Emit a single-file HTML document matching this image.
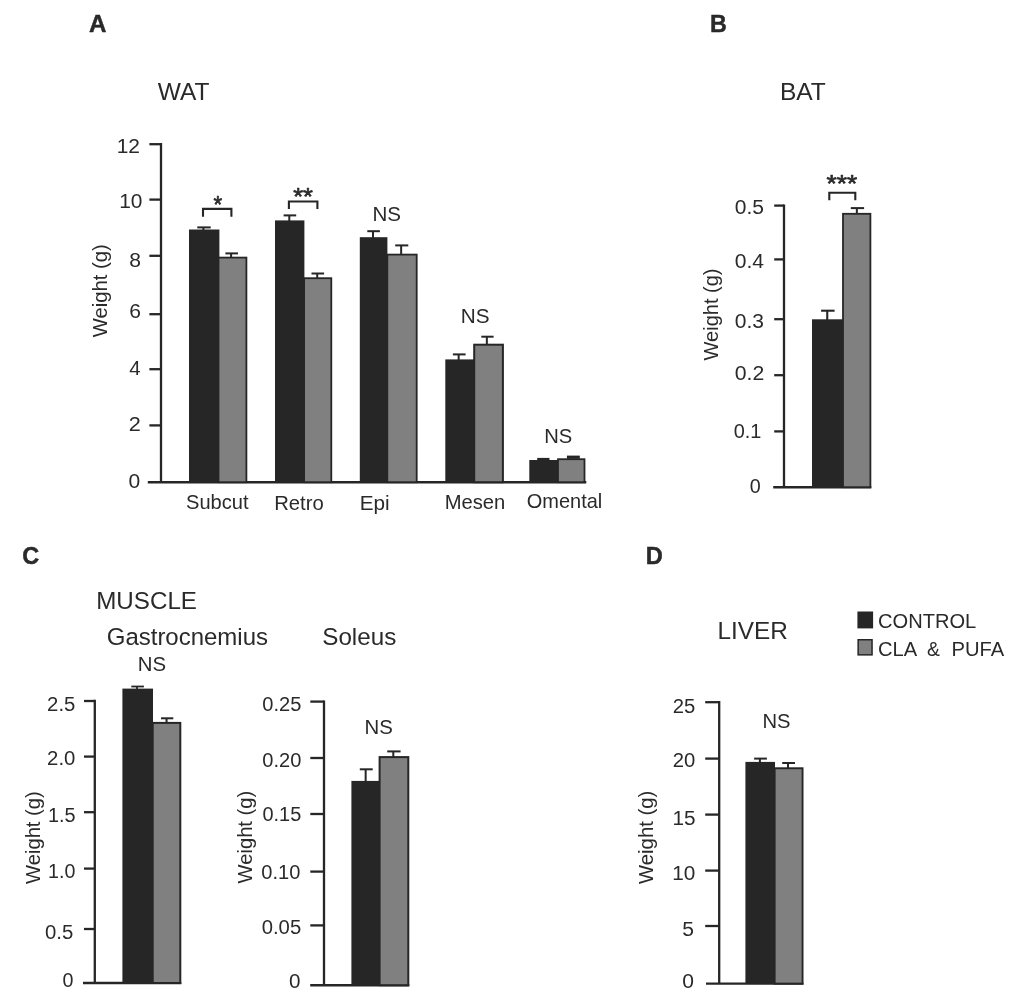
<!DOCTYPE html>
<html><head><meta charset="utf-8"><title>Figure</title>
<style>
html,body{margin:0;padding:0;background:#fff;}
svg{display:block;font-family:"Liberation Sans",sans-serif;filter:grayscale(1);}
</style></head>
<body>
<svg width="1016" height="1000" viewBox="0 0 1016 1000">
<rect x="0" y="0" width="1016" height="1000" fill="#ffffff"/>
<line x1="161.0" y1="143.04999999999998" x2="161.0" y2="482.2" stroke="#262626" stroke-width="2.3"/>
<line x1="147.8" y1="482.2" x2="586.3" y2="482.2" stroke="#262626" stroke-width="2.4"/>
<line x1="149.4" y1="144.2" x2="161.0" y2="144.2" stroke="#262626" stroke-width="2.3"/>
<line x1="149.4" y1="199.6" x2="161.0" y2="199.6" stroke="#262626" stroke-width="2.3"/>
<line x1="149.4" y1="255.8" x2="161.0" y2="255.8" stroke="#262626" stroke-width="2.3"/>
<line x1="149.4" y1="314.2" x2="161.0" y2="314.2" stroke="#262626" stroke-width="2.3"/>
<line x1="149.4" y1="369.2" x2="161.0" y2="369.2" stroke="#262626" stroke-width="2.3"/>
<line x1="149.4" y1="425.4" x2="161.0" y2="425.4" stroke="#262626" stroke-width="2.3"/>
<rect x="189.00" y="229.50" width="30.40" height="252.70" fill="#262626"/>
<line x1="197.3" y1="227.4" x2="210.7" y2="227.4" stroke="#262626" stroke-width="2.0"/>
<line x1="203.4" y1="227.4" x2="203.4" y2="230.5" stroke="#262626" stroke-width="2.0"/>
<rect x="218.50" y="257.60" width="27.90" height="224.60" fill="#808080" stroke="#262626" stroke-width="1.8"/>
<line x1="225.4" y1="253.4" x2="238.0" y2="253.4" stroke="#262626" stroke-width="2.0"/>
<line x1="231.1" y1="253.4" x2="231.1" y2="257.9" stroke="#262626" stroke-width="2.0"/>
<polyline points="203.0,216.8 203.0,208.9 231.4,208.9 231.4,216.8" fill="none" stroke="#262626" stroke-width="2.1" stroke-linejoin="miter"/>
<rect x="275.00" y="220.40" width="29.40" height="261.80" fill="#262626"/>
<line x1="283.6" y1="215.4" x2="296.2" y2="215.4" stroke="#262626" stroke-width="2.0"/>
<line x1="289.29999999999995" y1="215.4" x2="289.29999999999995" y2="221.4" stroke="#262626" stroke-width="2.0"/>
<rect x="304.10" y="278.20" width="27.20" height="204.00" fill="#808080" stroke="#262626" stroke-width="1.8"/>
<line x1="311.5" y1="273.5" x2="324.1" y2="273.5" stroke="#262626" stroke-width="2.0"/>
<line x1="317.2" y1="273.5" x2="317.2" y2="278.5" stroke="#262626" stroke-width="2.0"/>
<polyline points="288.9,208.9 288.9,201.5 317.4,201.5 317.4,208.9" fill="none" stroke="#262626" stroke-width="2.1" stroke-linejoin="miter"/>
<rect x="359.80" y="237.20" width="27.60" height="245.00" fill="#262626"/>
<line x1="367.3" y1="231.2" x2="379.9" y2="231.2" stroke="#262626" stroke-width="2.0"/>
<line x1="373.0" y1="231.2" x2="373.0" y2="238.2" stroke="#262626" stroke-width="2.0"/>
<rect x="387.30" y="254.60" width="29.40" height="227.60" fill="#808080" stroke="#262626" stroke-width="1.8"/>
<line x1="395.2" y1="245.4" x2="408.3" y2="245.4" stroke="#262626" stroke-width="2.0"/>
<line x1="401.15" y1="245.4" x2="401.15" y2="255.0" stroke="#262626" stroke-width="2.0"/>
<rect x="445.30" y="359.40" width="28.80" height="122.80" fill="#262626"/>
<line x1="452.9" y1="354.4" x2="465.6" y2="354.4" stroke="#262626" stroke-width="2.0"/>
<line x1="458.65" y1="354.4" x2="458.65" y2="360.4" stroke="#262626" stroke-width="2.0"/>
<rect x="474.20" y="344.70" width="28.70" height="137.50" fill="#808080" stroke="#262626" stroke-width="2.0"/>
<line x1="481.3" y1="336.7" x2="493.6" y2="336.7" stroke="#262626" stroke-width="2.0"/>
<line x1="486.85" y1="336.7" x2="486.85" y2="345.0" stroke="#262626" stroke-width="2.0"/>
<rect x="529.30" y="460.00" width="28.70" height="22.20" fill="#262626"/>
<rect x="537.20" y="457.90" width="12.30" height="2.60" fill="#262626"/>
<rect x="558.00" y="459.20" width="26.50" height="23.00" fill="#808080" stroke="#262626" stroke-width="1.8"/>
<rect x="566.90" y="455.60" width="12.90" height="3.20" fill="#262626"/>
<line x1="784.0" y1="204.45" x2="784.0" y2="487.2" stroke="#262626" stroke-width="2.3"/>
<line x1="773.2" y1="487.2" x2="871.3" y2="487.2" stroke="#262626" stroke-width="2.4"/>
<line x1="774.2" y1="205.6" x2="784.0" y2="205.6" stroke="#262626" stroke-width="2.3"/>
<line x1="774.2" y1="259.4" x2="784.0" y2="259.4" stroke="#262626" stroke-width="2.3"/>
<line x1="774.2" y1="319.2" x2="784.0" y2="319.2" stroke="#262626" stroke-width="2.3"/>
<line x1="774.2" y1="375.2" x2="784.0" y2="375.2" stroke="#262626" stroke-width="2.3"/>
<line x1="774.2" y1="431.4" x2="784.0" y2="431.4" stroke="#262626" stroke-width="2.3"/>
<rect x="812.00" y="319.30" width="31.90" height="167.90" fill="#262626"/>
<line x1="821.1" y1="310.7" x2="834.6" y2="310.7" stroke="#262626" stroke-width="2.1"/>
<line x1="827.25" y1="310.7" x2="827.25" y2="320.3" stroke="#262626" stroke-width="2.1"/>
<rect x="843.00" y="213.80" width="27.40" height="273.40" fill="#808080" stroke="#262626" stroke-width="1.8"/>
<line x1="850.8" y1="208.1" x2="864.1" y2="208.1" stroke="#262626" stroke-width="2.0"/>
<line x1="856.85" y1="208.1" x2="856.85" y2="214.0" stroke="#262626" stroke-width="2.0"/>
<polyline points="829.3,200.2 829.3,192.8 855.3,192.8 855.3,200.2" fill="none" stroke="#262626" stroke-width="2.1" stroke-linejoin="miter"/>
<line x1="94.8" y1="699.85" x2="94.8" y2="983.0" stroke="#262626" stroke-width="2.3"/>
<line x1="83.0" y1="983.0" x2="181.3" y2="983.0" stroke="#262626" stroke-width="2.4"/>
<line x1="84.0" y1="701.0" x2="94.8" y2="701.0" stroke="#262626" stroke-width="2.3"/>
<line x1="84.0" y1="756.6" x2="94.8" y2="756.6" stroke="#262626" stroke-width="2.3"/>
<line x1="84.0" y1="812.2" x2="94.8" y2="812.2" stroke="#262626" stroke-width="2.3"/>
<line x1="84.0" y1="868.6" x2="94.8" y2="868.6" stroke="#262626" stroke-width="2.3"/>
<line x1="84.0" y1="929.0" x2="94.8" y2="929.0" stroke="#262626" stroke-width="2.3"/>
<rect x="122.40" y="688.60" width="30.60" height="294.40" fill="#262626"/>
<line x1="131.3" y1="686.5" x2="143.9" y2="686.5" stroke="#262626" stroke-width="1.8"/>
<line x1="137.00000000000003" y1="686.5" x2="137.00000000000003" y2="689.6" stroke="#262626" stroke-width="1.8"/>
<rect x="152.70" y="722.90" width="27.60" height="260.10" fill="#808080" stroke="#262626" stroke-width="2.0"/>
<line x1="161.0" y1="718.3" x2="173.3" y2="718.3" stroke="#262626" stroke-width="2.0"/>
<line x1="166.55" y1="718.3" x2="166.55" y2="723.0" stroke="#262626" stroke-width="2.0"/>
<line x1="324.0" y1="700.45" x2="324.0" y2="985.2" stroke="#262626" stroke-width="2.3"/>
<line x1="310.2" y1="985.2" x2="409.3" y2="985.2" stroke="#262626" stroke-width="2.4"/>
<line x1="310.3" y1="701.6" x2="324.0" y2="701.6" stroke="#262626" stroke-width="2.3"/>
<line x1="310.3" y1="758.0" x2="324.0" y2="758.0" stroke="#262626" stroke-width="2.3"/>
<line x1="310.3" y1="814.0" x2="324.0" y2="814.0" stroke="#262626" stroke-width="2.3"/>
<line x1="310.3" y1="871.6" x2="324.0" y2="871.6" stroke="#262626" stroke-width="2.3"/>
<line x1="310.3" y1="925.4" x2="324.0" y2="925.4" stroke="#262626" stroke-width="2.3"/>
<rect x="351.40" y="780.90" width="28.10" height="204.30" fill="#262626"/>
<line x1="359.8" y1="769.3" x2="372.7" y2="769.3" stroke="#262626" stroke-width="2.0"/>
<line x1="365.65" y1="769.3" x2="365.65" y2="781.9" stroke="#262626" stroke-width="2.0"/>
<rect x="379.60" y="757.10" width="28.70" height="228.10" fill="#808080" stroke="#262626" stroke-width="2.0"/>
<line x1="387.2" y1="751.4" x2="400.6" y2="751.4" stroke="#262626" stroke-width="2.0"/>
<line x1="393.29999999999995" y1="751.4" x2="393.29999999999995" y2="757.5" stroke="#262626" stroke-width="2.0"/>
<line x1="719.2" y1="701.0500000000001" x2="719.2" y2="983.6" stroke="#262626" stroke-width="2.3"/>
<line x1="706.0" y1="983.6" x2="803.5" y2="983.6" stroke="#262626" stroke-width="2.4"/>
<line x1="705.2" y1="702.2" x2="719.2" y2="702.2" stroke="#262626" stroke-width="2.3"/>
<line x1="705.2" y1="758.6" x2="719.2" y2="758.6" stroke="#262626" stroke-width="2.3"/>
<line x1="705.2" y1="814.6" x2="719.2" y2="814.6" stroke="#262626" stroke-width="2.3"/>
<line x1="705.2" y1="870.6" x2="719.2" y2="870.6" stroke="#262626" stroke-width="2.3"/>
<line x1="705.2" y1="926.0" x2="719.2" y2="926.0" stroke="#262626" stroke-width="2.3"/>
<rect x="745.40" y="761.90" width="29.60" height="221.70" fill="#262626"/>
<line x1="754.1" y1="758.6" x2="766.9" y2="758.6" stroke="#262626" stroke-width="2.0"/>
<line x1="759.9" y1="758.6" x2="759.9" y2="762.9" stroke="#262626" stroke-width="2.0"/>
<rect x="774.65" y="768.25" width="27.90" height="215.35" fill="#808080" stroke="#262626" stroke-width="1.9"/>
<line x1="782.2" y1="763.0" x2="795.0" y2="763.0" stroke="#262626" stroke-width="2.0"/>
<line x1="788.0" y1="763.0" x2="788.0" y2="768.3" stroke="#262626" stroke-width="2.0"/>
<rect x="857.40" y="611.50" width="15.70" height="16.90" fill="#262626"/>
<rect x="858.15" y="639.75" width="13.90" height="15.10" fill="#808080" stroke="#262626" stroke-width="1.5"/>
<text x="89.03" y="32.25" font-size="24.3" font-weight="bold" stroke="#222222" stroke-width="0.45" stroke-linejoin="round" fill="#2a2a2a" textLength="17.44" lengthAdjust="spacingAndGlyphs">A</text>
<text x="709.99" y="32.00" font-size="24.3" font-weight="bold" stroke="#222222" stroke-width="0.45" stroke-linejoin="round" fill="#2a2a2a" textLength="16.81" lengthAdjust="spacingAndGlyphs">B</text>
<text x="22.32" y="563.50" font-size="24.3" font-weight="bold" stroke="#222222" stroke-width="0.45" stroke-linejoin="round" fill="#2a2a2a" textLength="16.97" lengthAdjust="spacingAndGlyphs">C</text>
<text x="645.71" y="563.75" font-size="24.3" font-weight="bold" stroke="#222222" stroke-width="0.45" stroke-linejoin="round" fill="#2a2a2a" textLength="17.04" lengthAdjust="spacingAndGlyphs">D</text>
<text x="157.75" y="100.00" font-size="24.6" fill="#2a2a2a" textLength="51.73" lengthAdjust="spacingAndGlyphs">WAT</text>
<text x="779.90" y="100.00" font-size="24.6" fill="#2a2a2a" textLength="46.00" lengthAdjust="spacingAndGlyphs">BAT</text>
<text x="96.23" y="608.50" font-size="24.6" fill="#2a2a2a" textLength="100.74" lengthAdjust="spacingAndGlyphs">MUSCLE</text>
<text x="106.75" y="644.75" font-size="23.7" fill="#2a2a2a" textLength="161.25" lengthAdjust="spacingAndGlyphs">Gastrocnemius</text>
<text x="322.25" y="645.25" font-size="23.7" fill="#2a2a2a" textLength="74.00" lengthAdjust="spacingAndGlyphs">Soleus</text>
<text x="717.46" y="639.00" font-size="24.6" fill="#2a2a2a" textLength="70.31" lengthAdjust="spacingAndGlyphs">LIVER</text>
<text x="878.00" y="627.75" font-size="20.8" fill="#2a2a2a" textLength="98.24" lengthAdjust="spacingAndGlyphs">CONTROL</text>
<text x="878.02" y="655.50" font-size="20.8" fill="#2a2a2a" textLength="39.22" lengthAdjust="spacingAndGlyphs">CLA</text>
<text x="927.03" y="655.50" font-size="20.8" fill="#2a2a2a" textLength="12.91" lengthAdjust="spacingAndGlyphs">&amp;</text>
<text x="951.51" y="655.50" font-size="20.8" fill="#2a2a2a" textLength="52.74" lengthAdjust="spacingAndGlyphs">PUFA</text>
<text x="372.47" y="221.00" font-size="20.1" fill="#2a2a2a" textLength="28.55" lengthAdjust="spacingAndGlyphs">NS</text>
<text x="460.67" y="323.25" font-size="20.1" fill="#2a2a2a" textLength="28.82" lengthAdjust="spacingAndGlyphs">NS</text>
<text x="544.19" y="443.25" font-size="20.1" fill="#2a2a2a" textLength="28.06" lengthAdjust="spacingAndGlyphs">NS</text>
<text x="137.74" y="670.75" font-size="20.1" fill="#2a2a2a" textLength="28.30" lengthAdjust="spacingAndGlyphs">NS</text>
<text x="364.46" y="734.25" font-size="20.1" fill="#2a2a2a" textLength="28.30" lengthAdjust="spacingAndGlyphs">NS</text>
<text x="762.47" y="728.25" font-size="20.1" fill="#2a2a2a" textLength="28.05" lengthAdjust="spacingAndGlyphs">NS</text>
<text x="186.01" y="509.25" font-size="19.8" fill="#2a2a2a" textLength="62.48" lengthAdjust="spacingAndGlyphs">Subcut</text>
<text x="274.23" y="509.75" font-size="19.8" fill="#2a2a2a" textLength="49.53" lengthAdjust="spacingAndGlyphs">Retro</text>
<text x="359.72" y="510.25" font-size="19.8" fill="#2a2a2a" textLength="29.93" lengthAdjust="spacingAndGlyphs">Epi</text>
<text x="444.73" y="509.25" font-size="19.8" fill="#2a2a2a" textLength="60.58" lengthAdjust="spacingAndGlyphs">Mesen</text>
<text x="526.75" y="508.25" font-size="19.8" fill="#2a2a2a" textLength="75.52" lengthAdjust="spacingAndGlyphs">Omental</text>
<text x="213.53" y="213.00" font-size="24.5" stroke="#2a2a2a" stroke-width="0.7" stroke-linejoin="round" fill="#2a2a2a" textLength="8.67" lengthAdjust="spacingAndGlyphs">*</text>
<text x="293.27" y="204.75" font-size="24.5" stroke="#2a2a2a" stroke-width="0.7" stroke-linejoin="round" fill="#2a2a2a" textLength="19.71" lengthAdjust="spacingAndGlyphs">**</text>
<text x="826.51" y="192.25" font-size="24.5" stroke="#2a2a2a" stroke-width="0.7" stroke-linejoin="round" fill="#2a2a2a" textLength="30.73" lengthAdjust="spacingAndGlyphs">***</text>
<text transform="translate(107.35,337.25) rotate(-90)" font-size="20" fill="#2a2a2a" textLength="93.02" lengthAdjust="spacingAndGlyphs">Weight (g)</text>
<text transform="translate(718.23,360.50) rotate(-90)" font-size="20" fill="#2a2a2a" textLength="92.02" lengthAdjust="spacingAndGlyphs">Weight (g)</text>
<text transform="translate(39.76,884.00) rotate(-90)" font-size="20" fill="#2a2a2a" textLength="92.77" lengthAdjust="spacingAndGlyphs">Weight (g)</text>
<text transform="translate(251.77,883.50) rotate(-90)" font-size="20" fill="#2a2a2a" textLength="92.77" lengthAdjust="spacingAndGlyphs">Weight (g)</text>
<text transform="translate(652.86,884.00) rotate(-90)" font-size="20" fill="#2a2a2a" textLength="93.27" lengthAdjust="spacingAndGlyphs">Weight (g)</text>
<text x="116.66" y="153.00" font-size="19.5" fill="#2a2a2a" textLength="23.30" lengthAdjust="spacingAndGlyphs">12</text>
<text x="119.23" y="207.50" font-size="19.5" fill="#2a2a2a" textLength="23.28" lengthAdjust="spacingAndGlyphs">10</text>
<text x="129.31" y="266.75" font-size="19.5" fill="#2a2a2a" textLength="11.74" lengthAdjust="spacingAndGlyphs">8</text>
<text x="129.18" y="317.75" font-size="19.5" fill="#2a2a2a" textLength="11.74" lengthAdjust="spacingAndGlyphs">6</text>
<text x="129.24" y="374.50" font-size="19.5" fill="#2a2a2a" textLength="11.39" lengthAdjust="spacingAndGlyphs">4</text>
<text x="128.68" y="430.75" font-size="19.5" fill="#2a2a2a" textLength="12.08" lengthAdjust="spacingAndGlyphs">2</text>
<text x="128.52" y="487.50" font-size="19.5" fill="#2a2a2a" textLength="11.71" lengthAdjust="spacingAndGlyphs">0</text>
<text x="734.71" y="213.75" font-size="19.5" fill="#2a2a2a" textLength="29.20" lengthAdjust="spacingAndGlyphs">0.5</text>
<text x="734.80" y="267.50" font-size="19.5" fill="#2a2a2a" textLength="29.26" lengthAdjust="spacingAndGlyphs">0.4</text>
<text x="734.71" y="328.25" font-size="19.5" fill="#2a2a2a" textLength="29.20" lengthAdjust="spacingAndGlyphs">0.3</text>
<text x="734.72" y="379.50" font-size="19.5" fill="#2a2a2a" textLength="29.53" lengthAdjust="spacingAndGlyphs">0.2</text>
<text x="733.71" y="438.00" font-size="19.5" fill="#2a2a2a" textLength="27.63" lengthAdjust="spacingAndGlyphs">0.1</text>
<text x="749.76" y="492.75" font-size="19.5" fill="#2a2a2a" textLength="10.98" lengthAdjust="spacingAndGlyphs">0</text>
<text x="47.09" y="710.50" font-size="19.5" fill="#2a2a2a" textLength="28.26" lengthAdjust="spacingAndGlyphs">2.5</text>
<text x="47.09" y="764.50" font-size="19.5" fill="#2a2a2a" textLength="28.26" lengthAdjust="spacingAndGlyphs">2.0</text>
<text x="47.97" y="822.00" font-size="19.5" fill="#2a2a2a" textLength="27.58" lengthAdjust="spacingAndGlyphs">1.5</text>
<text x="48.02" y="878.00" font-size="19.5" fill="#2a2a2a" textLength="27.30" lengthAdjust="spacingAndGlyphs">1.0</text>
<text x="45.01" y="939.25" font-size="19.5" fill="#2a2a2a" textLength="28.27" lengthAdjust="spacingAndGlyphs">0.5</text>
<text x="62.51" y="987.25" font-size="19.5" fill="#2a2a2a" textLength="10.97" lengthAdjust="spacingAndGlyphs">0</text>
<text x="262.26" y="711.25" font-size="19.5" fill="#2a2a2a" textLength="39.05" lengthAdjust="spacingAndGlyphs">0.25</text>
<text x="262.26" y="767.25" font-size="19.5" fill="#2a2a2a" textLength="39.05" lengthAdjust="spacingAndGlyphs">0.20</text>
<text x="262.51" y="821.25" font-size="19.5" fill="#2a2a2a" textLength="38.77" lengthAdjust="spacingAndGlyphs">0.15</text>
<text x="261.26" y="878.75" font-size="19.5" fill="#2a2a2a" textLength="39.05" lengthAdjust="spacingAndGlyphs">0.10</text>
<text x="261.72" y="934.25" font-size="19.5" fill="#2a2a2a" textLength="39.45" lengthAdjust="spacingAndGlyphs">0.05</text>
<text x="289.05" y="987.75" font-size="19.5" fill="#2a2a2a" textLength="11.50" lengthAdjust="spacingAndGlyphs">0</text>
<text x="672.75" y="713.25" font-size="19.5" fill="#2a2a2a" textLength="22.53" lengthAdjust="spacingAndGlyphs">25</text>
<text x="672.75" y="767.25" font-size="19.5" fill="#2a2a2a" textLength="22.53" lengthAdjust="spacingAndGlyphs">20</text>
<text x="672.49" y="824.75" font-size="19.5" fill="#2a2a2a" textLength="23.11" lengthAdjust="spacingAndGlyphs">15</text>
<text x="672.27" y="879.50" font-size="19.5" fill="#2a2a2a" textLength="23.09" lengthAdjust="spacingAndGlyphs">10</text>
<text x="682.25" y="935.50" font-size="19.5" fill="#2a2a2a" textLength="11.74" lengthAdjust="spacingAndGlyphs">5</text>
<text x="682.27" y="988.25" font-size="19.5" fill="#2a2a2a" textLength="11.71" lengthAdjust="spacingAndGlyphs">0</text>
</svg>
</body></html>
